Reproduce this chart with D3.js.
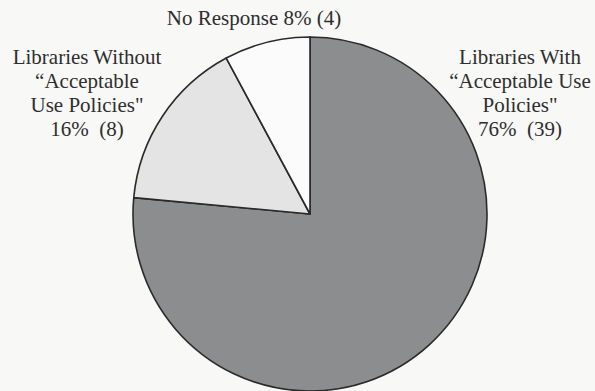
<!DOCTYPE html>
<html>
<head>
<meta charset="utf-8">
<script src="https://cdn.jsdelivr.net/npm/d3@7"></script>
<style>
  html, body { margin: 0; padding: 0; background: #f8f8f7; }
  svg { display: block; }
  text { font-family: "Liberation Serif", "Times New Roman", serif; fill: #2e2e2e; white-space: pre; }
</style>
</head>
<body>
<div id="chart"></div>
<script>
// data
const categories = ["Libraries With", "Libraries Without", "No Response"];
const counts = [39, 8, 4];
const percents = [76, 16, 8];
const labelLines = [
  ["Libraries With", "\u201CAcceptable Use", "Policies\"", "76%  (39)"],
  ["Libraries Without", "\u201CAcceptable", "Use Policies\"", "16%  (8)"],
  ["No Response 8% (4)"]
];
const colors = ["#8b8d8e", "#e4e4e4", "#fbfbfb"];

const width = 595, height = 391;
const cx = 310, cy = 214, radius = 177;

const svg = d3.select("#chart").append("svg")
  .attr("width", width)
  .attr("height", height);

const pieGen = d3.pie().sort(null).value((d) => d.count);
const arcGen = d3.arc().innerRadius(0).outerRadius(radius);

const rows = categories.map((c, i) => ({ name: c, count: counts[i], pct: percents[i] }));
const arcs = pieGen(rows);

const g = svg.append("g").attr("transform", `translate(${cx},${cy})`);

g.selectAll("path")
  .data(arcs)
  .join("path")
  .attr("d", arcGen)
  .attr("fill", (d, i) => colors[i])
  .attr("stroke", "#2a2a2a")
  .attr("stroke-width", 1.6)
  .attr("stroke-linejoin", "round");

// label anchors (layout only)
const labelPos = [
  { x: 520, y: 64 },
  { x: 87, y: 64 },
  { x: 254, y: 25 }
];
const lineH = 24;

svg.selectAll("text.lbl")
  .data(labelLines)
  .join("text")
  .attr("class", "lbl")
  .attr("text-anchor", "middle")
  .attr("font-size", 21)
  .attr("x", (d, i) => labelPos[i].x)
  .attr("y", (d, i) => labelPos[i].y)
  .selectAll("tspan")
  .data((d, i) => d.map((t) => ({ t, i })))
  .join("tspan")
  .attr("x", (d) => labelPos[d.i].x)
  .attr("dy", (d, j) => (j === 0 ? 0 : lineH))
  .text((d) => d.t);
</script>
</body>
</html>
